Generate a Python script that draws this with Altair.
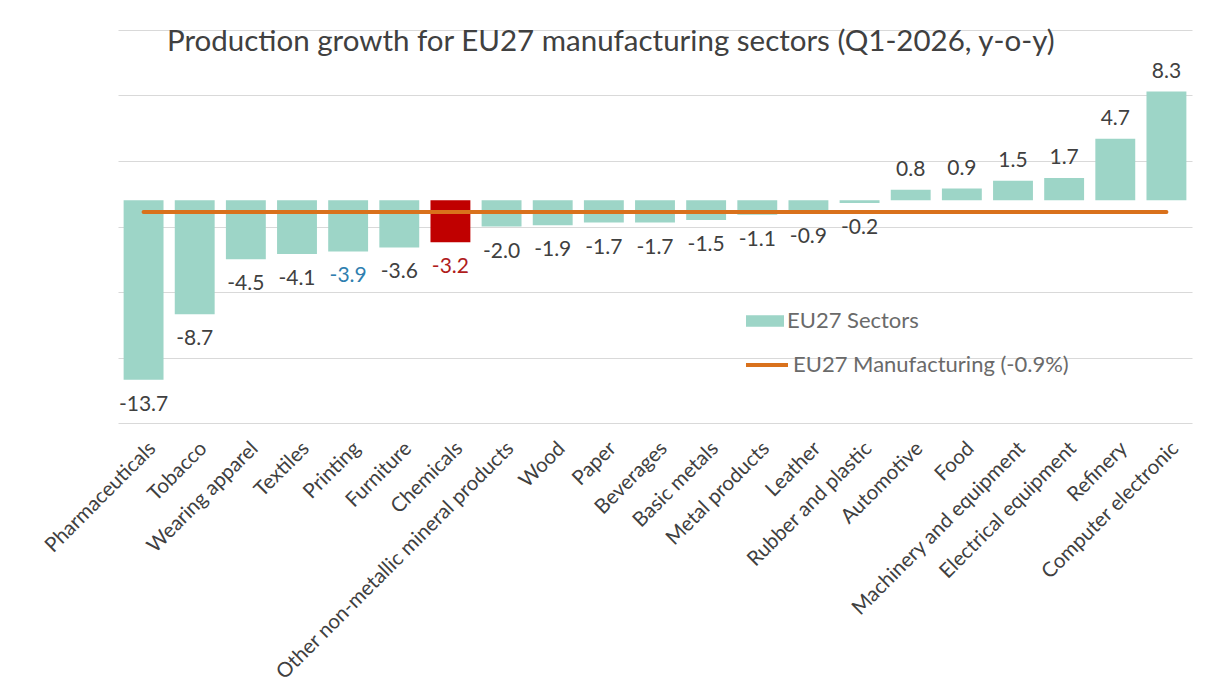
import altair as alt
import pandas as pd

sectors = [
    "Pharmaceuticals", "Tobacco", "Wearing apparel", "Textiles", "Printing",
    "Furniture", "Chemicals", "Other non-metallic mineral products", "Wood",
    "Paper", "Beverages", "Basic metals", "Metal products", "Leather",
    "Rubber and plastic", "Automotive", "Food", "Machinery and equipment",
    "Electrical equipment", "Refinery", "Computer electronic",
]
growth = [-13.7, -8.7, -4.5, -4.1, -3.9, -3.6, -3.2, -2.0, -1.9, -1.7, -1.7,
          -1.5, -1.1, -0.9, -0.2, 0.8, 0.9, 1.5, 1.7, 4.7, 8.3]
manufacturing = -0.9
series_bar = "EU27 Sectors"
series_line = "EU27 Manufacturing (-0.9%)"
grid_values = [-17, -12, -7, -2, 3, 8, 13]
title_text = "Production growth for EU27 manufacturing sectors (Q1-2026, y-o-y)"

df = pd.DataFrame({
    "sector": sectors,
    "value": growth,
    "label": [f"{v:.1f}" for v in growth],
    "series": series_bar,
})
line_df = pd.DataFrame({
    "sector": [sectors[0], sectors[-1]],
    "value": [manufacturing, manufacturing],
    "series": series_line,
})

FONT = "Lato"
TEAL = "#9dd5c7"
RED = "#c00000"
ORANGE = "#d9711c"

x_enc = alt.X(
    "sector:N",
    sort=sectors,
    scale=alt.Scale(domain=sectors, paddingInner=0.22, paddingOuter=0.11),
    axis=alt.Axis(
        title=None, labelAngle=-45, labelFontSize=20.5, labelColor="#404040",
        labelFont=FONT, ticks=False, domain=False, labelPadding=15,
        labelOffset=2, grid=False, labelOverlap=False, labelLimit=0,
    ),
)
y_enc = alt.Y(
    "value:Q",
    scale=alt.Scale(domain=[-17, 13], nice=False, zero=False),
    axis=alt.Axis(
        title=None, values=grid_values, labels=False, ticks=False,
        domain=False, grid=True, gridColor="#d9d9d9", gridWidth=1,
    ),
)

bars = alt.Chart(df).mark_bar().encode(
    x=x_enc,
    y=y_enc,
    y2=alt.datum(0),
    fill=alt.condition(
        "datum.sector === 'Chemicals'",
        alt.value(RED),
        alt.Fill(
            "series:N",
            scale=alt.Scale(domain=[series_bar], range=[TEAL]),
            legend=alt.Legend(
                title=None, orient="none", legendX=628, legendY=272,
                symbolType="M-1,-0.3H1V0.3H-1Z", symbolSize=1444,
                symbolStrokeWidth=0, labelFontSize=22, labelColor="#6a6a6a",
                labelFont=FONT, labelOffset=3, padding=0, labelLimit=0,
            ),
        ),
    ),
)

line = alt.Chart(line_df).mark_line(strokeWidth=4, strokeCap="round").encode(
    x=alt.X("sector:N", sort=sectors, scale=alt.Scale(domain=sectors)),
    y=alt.Y("value:Q"),
    stroke=alt.Stroke(
        "series:N",
        scale=alt.Scale(domain=[series_line], range=[ORANGE]),
        legend=alt.Legend(
            title=None, orient="none", legendX=626, legendY=312,
            symbolType="stroke", symbolSize=1764, symbolStrokeWidth=4,
            labelFontSize=22, labelColor="#6a6a6a", labelFont=FONT,
            labelOffset=3, padding=0, labelLimit=0,
        ),
    ),
)

label_color = alt.value(
    "#404040",
    condition=[
        {"test": "datum.sector === 'Chemicals'", "value": "#b01c1c"},
        {"test": "datum.sector === 'Printing'", "value": "#2f7fb0"},
    ],
)

neg_text = alt.Chart(df).transform_filter("datum.value < 0").mark_text(
    baseline="top", dy=14, fontSize=21, font=FONT
).encode(x=alt.X("sector:N", sort=sectors), y=alt.Y("value:Q"), text="label:N", color=label_color)

pos_text = alt.Chart(df).transform_filter("datum.value >= 0").mark_text(
    baseline="alphabetic", dy=-14, fontSize=21, font=FONT
).encode(x=alt.X("sector:N", sort=sectors), y=alt.Y("value:Q"), text="label:N", color=label_color)

chart = (
    alt.layer(bars, line, neg_text, pos_text)
    .resolve_scale(fill="independent", stroke="independent")
    .properties(
        width=1074,
        height=393,
        autosize=alt.AutoSizeParams(type="none"),
        padding={"left": 110, "top": 22, "right": 23, "bottom": 274},
        title=alt.TitleParams(
            text=title_text, font=FONT, fontSize=29.5, fontWeight="normal",
            color="#404040", anchor="start", frame="group", dx=49,
            baseline="alphabetic", offset=-50,
        ),
        background="white",
    )
    .configure_view(stroke=None)
)

chart.save("out.html", embed_options={"renderer": "svg", "actions": False})
